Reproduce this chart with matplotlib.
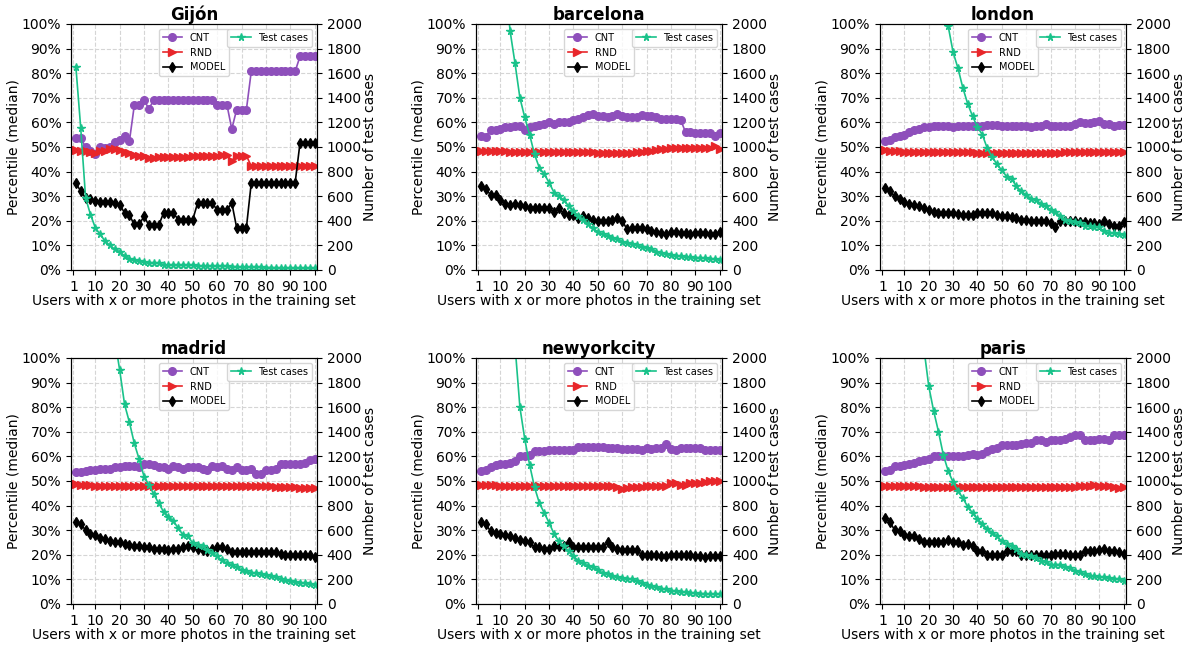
import matplotlib
matplotlib.use("Agg")
import matplotlib.pyplot as plt
import numpy as np

# x positions: users with x or more photos
x_vals = list(range(2, 101, 2))
x_ticks = [1, 10, 20, 30, 40, 50, 60, 70, 80, 90, 100]

cities = ["Gijón", "barcelona", "london", "madrid", "newyorkcity", "paris"]

# ---- Gijón ----
gijon_cnt = [53.6, 53.6, 50, 48.5, 47, 50, 49.5, 50, 52, 53, 54.5, 52.5, 67, 67, 69, 65.5,
             69.2, 69.2, 69.2, 69.2, 69.2, 69.2, 69.2, 69.2, 69.2, 69.2, 69.2, 69.2, 69.2,
             67.2, 67.2, 67.2, 57.3, 65.2, 65.2, 65.2,
             80.7, 80.7, 80.7, 80.7, 80.7, 80.7, 80.7, 80.7, 80.7, 80.7,
             86.8, 86.8, 86.8, 86.8]
gijon_rnd = [48.6, 48.5, 48.3, 48, 47.6, 48.2, 48.5, 49, 49, 48.8, 47.8, 47.6, 46.8, 46.5, 46.2, 45.5,
             45.6, 45.8, 46, 46, 46, 46, 46.1, 46.1, 46.2, 46.2, 46.3, 46.3, 46.4,
             46.5, 46.6, 46.6, 44.5, 46.5, 46.5, 46.5,
             42.2, 42.2, 42.2, 42.2, 42.2, 42.2, 42.2, 42.2, 42.2, 42.2,
             42.2, 42.2, 42.2, 42.2]
gijon_model = [35.4, 32, 29.3, 28.9, 28, 27.7, 27.6, 27.6, 27.3, 26.6, 23.2, 22.2, 18.5, 18.5, 21.9, 18.1,
               18.1, 18.1, 23.2, 23.2, 23.2, 20.5, 20.5, 20.5, 20.5, 27.3, 27.3, 27.3, 27.3,
               24.3, 24.3, 24.3, 27.3, 17.2, 17.2, 17.2,
               35.4, 35.4, 35.4, 35.4, 35.4, 35.4, 35.4, 35.4, 35.4, 35.4,
               51.6, 51.6, 51.6, 51.6]
gijon_cases = [1654, 1154, 586, 451, 343, 289, 235, 200, 168, 149, 114, 86, 78, 73, 65, 59,
               59, 54, 40, 40, 38, 38, 38, 38, 38, 32, 32, 32, 32, 32, 30, 30, 28, 26, 24,
               24, 24, 22, 22, 20, 20, 18, 18, 16, 16, 16, 15, 15, 14, 14]

# ---- barcelona ----
barcelona_cnt = [54.5, 54.2, 57, 57, 57.5, 58, 58, 58.5, 58.5, 57, 58, 58.5, 59, 59.5, 60, 59.5,
                 60, 60, 60.2, 61, 61.5, 62, 63, 63.5, 62.5, 62.5, 62, 62.5, 63.5, 62.5, 62, 62,
                 62, 63, 62.5, 62.5, 62, 61.5, 61.5, 61.5, 61.2, 61, 56, 56, 55.5, 55.5, 55.5,
                 55.5, 54.5, 55.5]
barcelona_rnd = [48.4, 48.3, 48.3, 48.2, 48.2, 48.2, 48.1, 48.1, 48.1, 48.1, 48, 48, 47.8, 47.8, 47.8,
                 47.8, 47.8, 47.8, 47.9, 47.9, 47.8, 47.8, 47.8, 47.8, 47.7, 47.7, 47.6, 47.6, 47.6,
                 47.6, 47.6, 47.7, 47.8, 48, 48.2, 48.5, 48.8, 49, 49.2, 49.4, 49.5, 49.5, 49.5,
                 49.5, 49.4, 49.4, 49.4, 49.5, 50.5, 49.3]
barcelona_model = [34, 33, 30.5, 30.5, 28.5, 27, 26.5, 27, 26.5, 26, 25, 25, 25, 25, 25, 23.5, 25,
                   23, 22.5, 22.5, 21, 22, 21, 20.5, 20, 20, 20, 20.5, 21, 20, 16.5, 17, 17, 17,
                   16.5, 16, 15.5, 15, 14.5, 15.5, 15.5, 15, 15, 14.5, 15, 15, 15, 14.5, 14.5, 15.5]
barcelona_cases = [7000, 5200, 4100, 3300, 2800, 2340, 1940, 1680, 1400, 1240, 1100, 940, 830, 780,
                   710, 630, 600, 570, 520, 480, 440, 410, 370, 340, 310, 290, 280, 260, 250, 230,
                   220, 210, 200, 190, 180, 170, 150, 140, 130, 120, 116, 110, 106, 104, 100, 100,
                   96, 92, 90, 84]

# ---- london ----
london_cnt = [52.5, 53, 54, 54.5, 55, 56, 57, 57.5, 58, 58, 58.5, 58.5, 58.7, 58.7, 58.3, 58.7,
              58.7, 58.7, 58.7, 58.5, 58.7, 59, 59, 59, 58.7, 58.7, 58.7, 58.5, 58.5, 58.5, 58.2,
              58.5, 58.7, 59.2, 58.7, 58.7, 58.7, 58.7, 58.7, 59.2, 60, 59.8, 59.8, 60, 60.5,
              59.3, 59.3, 58.5, 58.8, 58.8]
london_rnd = [48.7, 48.5, 48.3, 48.2, 48.1, 48, 48, 48, 48, 47.9, 47.9, 47.9, 47.9, 47.8, 47.8,
              47.8, 47.8, 47.8, 47.8, 47.7, 47.7, 47.7, 47.7, 47.7, 47.6, 47.6, 47.6, 47.6, 47.6,
              47.6, 47.7, 47.7, 47.7, 47.7, 47.7, 47.7, 47.7, 47.8, 47.8, 47.8, 47.8, 47.8, 47.8,
              47.8, 47.8, 47.8, 47.8, 47.8, 47.9, 47.9]
london_model = [33.5, 32, 30, 29, 27.5, 27, 26.5, 26, 25, 24.5, 23.5, 23, 23, 23, 23, 22.7, 22.5,
                22.5, 22.5, 23, 23, 23, 23, 22.5, 22, 22, 21.5, 21, 20.5, 20.5, 20, 20, 20, 20, 19,
                17.5, 20, 20, 20, 20, 19.5, 19.5, 19, 19, 18.5, 20, 18.5, 18, 18, 19.5]
london_cases = [12000, 10000, 8500, 7300, 6300, 5500, 4800, 4200, 3700, 3300, 3000, 2600, 2250,
                1980, 1770, 1640, 1480, 1350, 1250, 1160, 1100, 990, 920, 860, 810, 760, 740, 680,
                640, 610, 580, 570, 540, 520, 490, 470, 440, 410, 400, 390, 380, 360, 356, 350,
                346, 316, 300, 300, 296, 284]

# ---- madrid ----
madrid_cnt = [53.5, 53.5, 54, 54.5, 54.5, 55, 55, 55, 55.5, 55.5, 56, 56, 56, 55.5, 57, 57, 56.5,
              55.5, 55.5, 55, 56, 55.5, 55, 55.5, 55.5, 55.5, 55, 54.5, 56, 55.5, 56, 55, 54.5,
              55.5, 54.5, 54.5, 55, 53, 53, 54.5, 54.5, 55, 57, 57, 57, 57, 57, 57.5, 58.5, 59]
madrid_rnd = [48.6, 48.5, 48.3, 48.2, 48.1, 48, 48, 48, 48, 47.9, 47.9, 47.9, 47.8, 47.8, 47.8,
              47.9, 47.9, 47.9, 47.9, 47.9, 48, 48, 48, 48, 48, 48, 48, 48, 48, 48, 48, 48, 48,
              48, 48, 48, 47.9, 47.9, 47.9, 47.8, 47.8, 47.7, 47.6, 47.5, 47.5, 47.4, 47.3, 47.2,
              47.1, 47]
madrid_model = [33.5, 32.5, 30, 28.5, 28, 27, 26.5, 25.5, 25, 25, 24.5, 24, 23.5, 23.5, 23, 23,
                22.5, 22.5, 22.5, 22, 22.5, 22.5, 23, 23.5, 23, 22.5, 22, 21.5, 22.5, 23, 23, 22.5,
                21, 21, 21, 21, 21, 21, 21, 21, 21, 21, 20.5, 20, 20, 20, 20, 20, 20, 19]
madrid_cases = [11000, 8000, 6300, 5100, 4200, 3500, 2950, 2500, 2150, 1900, 1622, 1476, 1305,
                1176, 1035, 968, 892, 819, 751, 711, 676, 616, 562, 549, 495, 481, 468, 440, 414,
                386, 354, 332, 314, 297, 278, 265, 254, 249, 243, 232, 224, 216, 203, 192, 184,
                178, 173, 170, 165, 157]

# ---- newyorkcity ----
nyc_cnt = [54, 54.5, 55.5, 56.5, 57, 57, 57.5, 58, 60, 60, 60.5, 62, 62, 62, 62.5, 62.5, 62.5,
           62.5, 62.5, 62.5, 64, 64, 64, 64, 64, 63.8, 63.5, 63.5, 63.5, 63, 63, 63, 62.8, 62.5,
           63.5, 63.2, 63.5, 63.5, 65, 63, 62.5, 63.5, 63.5, 63.5, 63.5, 63.5, 62.5, 62.5, 62.5,
           62.5]
nyc_rnd = [48.5, 48.5, 48.3, 48.2, 48, 48, 48, 47.9, 47.9, 47.9, 47.8, 47.8, 47.8, 47.8, 47.8,
           47.8, 47.8, 47.8, 47.8, 47.8, 47.8, 47.8, 47.8, 47.8, 47.8, 47.8, 47.8, 47.8, 47.7,
           46.8, 47.2, 47.5, 47.6, 47.7, 47.8, 48, 48, 48, 48, 49, 49, 48.5, 48.5, 49, 49, 49.2,
           49.5, 50, 50, 50]
nyc_model = [33.5, 32.5, 29.5, 29, 28.5, 28, 27.5, 27, 26, 25.5, 25, 23, 23, 22.5, 22.5, 23.5,
             23.5, 23.5, 25, 23, 23, 23, 23, 23, 23, 23, 25, 23, 22.5, 22, 22, 22, 22, 20, 20,
             20, 20, 19.5, 19.5, 20, 20, 20, 20, 20, 19.5, 19.5, 19, 19.5, 19.5, 19.5]
nyc_cases = [10000, 7600, 6000, 4800, 3900, 3200, 2600, 2100, 1600, 1340, 1130, 950, 820, 740,
             660, 570, 510, 470, 430, 390, 350, 330, 310, 300, 280, 250, 240, 230, 220, 210, 204,
             200, 190, 170, 156, 144, 136, 124, 120, 108, 104, 100, 96, 92, 88, 84, 84, 80, 80,
             80]

# ---- paris ----
paris_cnt = [54, 54.5, 56, 56, 56.5, 57, 57.5, 58, 58.5, 59, 60, 60, 60, 60, 60, 60, 60, 60.5,
             61, 60.5, 61, 62, 63, 63.5, 64.5, 64.5, 64.5, 64.5, 65, 65.5, 65.5, 66.5, 66.5, 66,
             66.5, 66.5, 66.5, 67, 68, 68.5, 68.5, 66.5, 66.5, 66.5, 67, 67, 66.5, 68.5, 68.5,
             68.5]
paris_rnd = [48, 48, 47.9, 47.9, 47.8, 47.8, 47.8, 47.8, 47.7, 47.7, 47.7, 47.7, 47.7, 47.7, 47.7,
             47.7, 47.7, 47.6, 47.6, 47.6, 47.6, 47.6, 47.6, 47.5, 47.5, 47.5, 47.5, 47.5, 47.5,
             47.5, 47.4, 47.4, 47.4, 47.5, 47.5, 47.5, 47.6, 47.6, 47.6, 47.7, 47.8, 48, 48.1,
             48.3, 48, 48, 47.8, 47.5, 47.2, 47.5]
paris_model = [35, 33.5, 30, 29.5, 28, 27.5, 27.5, 26.5, 25, 25, 25, 25, 25, 26, 25, 25, 24, 24.5,
               23.5, 21.5, 21.5, 20, 20, 20, 20, 21.5, 21.5, 21.5, 20, 20, 20, 20, 20, 20, 20,
               20.5, 20.5, 20.5, 20, 20, 20, 21.5, 21.5, 21.5, 22, 22.5, 21.5, 21.5, 21, 20.5]
paris_cases = [9500, 7200, 5600, 4500, 3700, 3100, 2700, 2450, 2080, 1770, 1570, 1400, 1210, 1080,
               990, 920, 860, 790, 740, 690, 650, 610, 580, 550, 510, 490, 470, 450, 410, 400,
               390, 370, 350, 340, 320, 320, 320, 300, 290, 270, 260, 240, 230, 226, 220, 216,
               210, 204, 200, 190]

city_data = [
    (gijon_cnt, gijon_rnd, gijon_model, gijon_cases),
    (barcelona_cnt, barcelona_rnd, barcelona_model, barcelona_cases),
    (london_cnt, london_rnd, london_model, london_cases),
    (madrid_cnt, madrid_rnd, madrid_model, madrid_cases),
    (nyc_cnt, nyc_rnd, nyc_model, nyc_cases),
    (paris_cnt, paris_rnd, paris_model, paris_cases),
]

c_cnt = "#8e4fbb"
c_rnd = "#e8262a"
c_model = "black"
c_cases = "#19c28a"

fig = plt.figure(figsize=(11.91, 6.45), dpi=100)

lefts = [0.0596, 0.3997, 0.7389]
bottoms = [0.5814, 0.0636]
w, h = 0.2066, 0.3814

for i, (city, (cnt, rnd, model, cases)) in enumerate(zip(cities, city_data)):
    ax = fig.add_axes([lefts[i % 3], bottoms[i // 3], w, h])
    ax2 = ax.twinx()

    ax.plot(x_vals, cnt, color=c_cnt, marker="o", markersize=5.5, linewidth=1.2, label="CNT")
    ax.plot(x_vals, rnd, color=c_rnd, marker=">", markersize=5.5, linewidth=1.2, label="RND")
    ax.plot(x_vals, model, color=c_model, marker="d", markersize=5, linewidth=1.2, label="MODEL")
    ax2.plot(x_vals, cases, color=c_cases, marker="*", markersize=5.5, linewidth=1.2,
             label="Test cases")

    ax.set_xlim(0, 101)
    ax.set_ylim(0, 100)
    ax2.set_ylim(0, 2000)
    ax.set_xticks(x_ticks)
    ax.set_yticks(range(0, 101, 10))
    ax.set_yticklabels([f"{v}%" for v in range(0, 101, 10)])
    ax2.set_yticks(range(0, 2001, 200))
    ax.tick_params(labelsize=10)
    ax2.tick_params(labelsize=10)

    ax.grid(True, linestyle="--", color="#d5d5d5", linewidth=0.8)
    ax.set_axisbelow(True)

    ax.set_title(city, fontsize=12, fontweight="bold", pad=3)
    ax.set_xlabel("Users with x or more photos in the training set", fontsize=10, labelpad=0)
    ax.set_ylabel("Percentile (median)", fontsize=10, labelpad=1)
    ax2.set_ylabel("Number of test cases", fontsize=10, labelpad=1)

    ax.legend(loc="upper center", fontsize=7)
    ax2.legend(loc="upper right", fontsize=7)

plt.savefig("out.png", dpi=100)
